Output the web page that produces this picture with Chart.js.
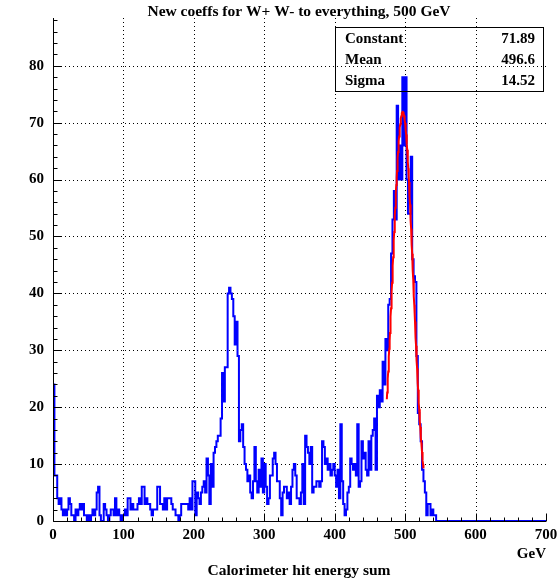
<!DOCTYPE html>
<html>
<head>
<meta charset="utf-8">
<script src="https://cdn.jsdelivr.net/npm/chart.js@4"></script>
<style>
  html, body { margin: 0; padding: 0; background: #fff; }
  canvas { display: block; }
</style>
</head>
<body>
<canvas id="calo" width="559" height="579"></canvas>
<script>
// calorimeter hit energy sum, 2 GeV bins starting at 0 GeV
const binWidth = 2;
const counts0to98 = [24, 8, 8, 4, 3, 4, 2, 1, 2, 1, 2, 4, 3, 1, 1, 0, 2, 1, 2, 3,
  2, 3, 1, 1, 0, 1, 0, 1, 2, 1, 2, 5, 6, 1, 0, 0, 3, 2, 1, 0,
  1, 2, 2, 1, 4, 1, 2, 1, 0, 1];
const counts100to198 = [1, 2, 1, 4, 4, 2, 3, 2, 2, 2, 3, 4, 3, 6, 6, 3, 4, 3, 3, 2,
  1, 2, 2, 2, 6, 6, 3, 3, 2, 4, 2, 4, 4, 4, 3, 2, 2, 1, 1, 0,
  1, 3, 3, 3, 3, 3, 2, 4, 2, 7];
const counts200to298 = [7, 1, 5, 4, 3, 5, 6, 7, 5, 11, 8, 3, 10, 6, 12, 13, 14, 15, 15, 18,
  26, 21, 27, 27, 40, 41, 40, 39, 36, 31, 35, 29, 14, 16, 17, 13, 10, 9, 7, 8,
  5, 4, 7, 13, 7, 5, 9, 6, 11, 5];
const counts300to398 = [10, 6, 3, 4, 8, 8, 11, 12, 10, 7, 7, 4, 1, 5, 6, 6, 4, 5, 3, 6,
  9, 10, 8, 4, 4, 3, 5, 10, 3, 15, 13, 12, 10, 13, 5, 6, 6, 7, 7, 6,
  7, 14, 13, 10, 11, 9, 10, 8, 9, 10];
const counts400to498 = [8, 6, 9, 4, 17, 7, 3, 1, 2, 5, 6, 11, 10, 9, 10, 8, 17, 6, 7, 14,
  11, 12, 9, 8, 14, 9, 15, 16, 18, 9, 22, 20, 23, 21, 28, 24, 32, 30, 38, 39,
  47, 53, 58, 53, 73, 60, 66, 60, 78, 66];
const counts500to546 = [78, 60, 54, 54, 64, 46, 43, 42, 29, 19, 17, 14, 9, 7, 5, 1, 3, 3, 1, 2,
  1, 1, 0, 0];

// gaussian fit result
const fitConstant = 71.89;
const fitMean = 496.6;
const fitSigma = 14.52;
const fitRange = [474, 526];

const xTicks = [0, 100, 200, 300, 400, 500, 600, 700];
const yTicks = [0, 10, 20, 30, 40, 50, 60, 70, 80];

const counts = [].concat(counts0to98, counts100to198, counts200to298,
  counts300to398, counts400to498, counts500to546);
const histPoints = counts.map((c, i) => ({ x: i * binWidth, y: c }));
histPoints.push({ x: counts.length * binWidth, y: 0 });
histPoints.push({ x: 700, y: 0 });

const fitPoints = [];
for (let e = fitRange[0]; e <= fitRange[1]; e += 0.5) {
  const u = (e - fitMean) / fitSigma;
  fitPoints.push({ x: e, y: fitConstant * Math.exp(-0.5 * u * u) });
}

const FONT = 'bold 15px "Liberation Serif", "Times New Roman", serif';
const TITLE_FONT = 'bold 15.5px "Liberation Serif", "Times New Roman", serif';

// ROOT-like frame: dotted grid, inward ticks, stats box
const rootFrame = {
  id: 'rootFrame',
  beforeDatasetsDraw(chart) {
    const { ctx, chartArea: a, scales: { x, y } } = chart;
    ctx.save();
    ctx.strokeStyle = '#000';
    ctx.lineWidth = 1;
    ctx.setLineDash([1, 3]);
    xTicks.slice(1, -1).forEach(v => {
      const px = Math.round(x.getPixelForValue(v)) + 0.5;
      ctx.beginPath(); ctx.moveTo(px, a.top); ctx.lineTo(px, a.bottom); ctx.stroke();
    });
    yTicks.slice(1).forEach(v => {
      const py = Math.round(y.getPixelForValue(v)) + 0.5;
      ctx.beginPath(); ctx.moveTo(a.left, py); ctx.lineTo(a.right, py); ctx.stroke();
    });
    ctx.restore();
  },
  afterDatasetsDraw(chart) {
    const { ctx, chartArea: a, scales: { x, y } } = chart;
    ctx.save();
    ctx.strokeStyle = '#000';
    ctx.fillStyle = '#000';
    ctx.lineWidth = 1;
    // axes
    const left = Math.round(a.left) + 0.5;
    const bottom = Math.round(a.bottom) + 0.5;
    ctx.beginPath();
    ctx.moveTo(left, a.top); ctx.lineTo(left, bottom); ctx.lineTo(a.right, bottom);
    ctx.stroke();
    // ticks
    ctx.beginPath();
    for (let v = 0; v <= 700; v += 20) {
      const px = Math.round(x.getPixelForValue(v)) + 0.5;
      const len = v % 100 === 0 ? 8 : 4;
      ctx.moveTo(px, bottom); ctx.lineTo(px, bottom - len);
    }
    for (let v = 0; v <= 88; v += 2) {
      const py = Math.round(y.getPixelForValue(v)) + 0.5;
      const len = v % 10 === 0 ? 8 : 4;
      ctx.moveTo(left, py); ctx.lineTo(left + len, py);
    }
    ctx.stroke();
    // tick labels
    ctx.font = FONT;
    ctx.textBaseline = 'middle';
    ctx.textAlign = 'center';
    xTicks.forEach(v => ctx.fillText(String(v), x.getPixelForValue(v), a.bottom + 14));
    ctx.textAlign = 'right';
    yTicks.forEach(v => ctx.fillText(String(v), a.left - 9, y.getPixelForValue(v)));
    // axis titles
    ctx.textAlign = 'right';
    ctx.fillText('GeV', a.right, a.bottom + 33);
    ctx.font = TITLE_FONT;
    ctx.textAlign = 'center';
    ctx.fillText('Calorimeter hit energy sum', 299, a.bottom + 50);
    ctx.fillText('New coeffs for W+ W- to everything, 500 GeV', 299, 12);
    // stats box
    ctx.font = FONT;
    ctx.strokeRect(335.5, 27.5, 208, 64);
    const rows = [['Constant', fitConstant.toFixed(2)], ['Mean', fitMean.toFixed(1)], ['Sigma', fitSigma.toFixed(2)]];
    rows.forEach((r, i) => {
      const ty = 39 + i * 21;
      ctx.textAlign = 'left';
      ctx.fillText(r[0], 345, ty);
      ctx.textAlign = 'right';
      ctx.fillText(r[1], 535, ty);
    });
    ctx.restore();
  }
};

new Chart(document.getElementById('calo'), {
  type: 'line',
  data: {
    datasets: [
      { data: fitPoints, borderColor: '#ff0000', borderWidth: 2, pointRadius: 0, tension: 0, fill: false, order: 0 },
      { data: histPoints, stepped: 'before', borderColor: '#0000ff', borderWidth: 2, pointRadius: 0, fill: false, order: 1 }
    ]
  },
  options: {
    responsive: false,
    animation: false,
    devicePixelRatio: 1,
    layout: { padding: { left: 53, right: 13, top: 18, bottom: 58 } },
    plugins: { legend: { display: false }, tooltip: { enabled: false } },
    scales: {
      x: { type: 'linear', min: 0, max: 700, display: false },
      y: { type: 'linear', min: 0, max: 88.4, display: false }
    }
  },
  plugins: [rootFrame]
});
</script>
</body>
</html>
